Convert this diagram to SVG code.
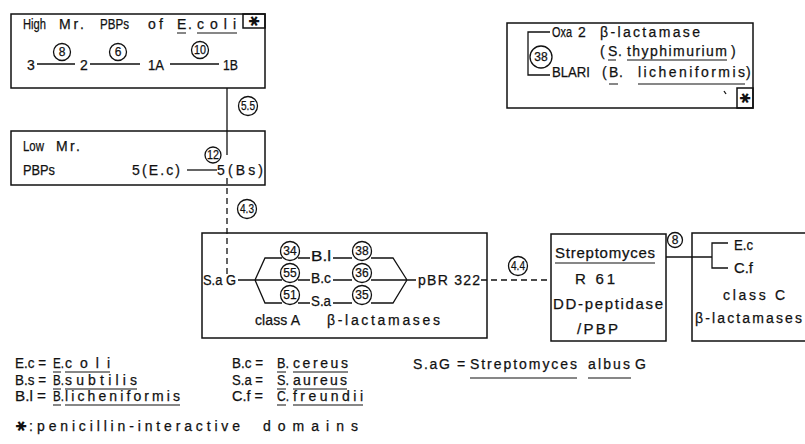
<svg xmlns="http://www.w3.org/2000/svg" width="805" height="444" viewBox="0 0 805 444">
<style>
.b{fill:none;stroke:#111;stroke-width:1.5}
.l{fill:none;stroke:#111;stroke-width:1.3}
.d{fill:none;stroke:#111;stroke-width:1.3;stroke-dasharray:6 4}
.c{fill:#fff;stroke:#111;stroke-width:1.3}
.u{fill:none;stroke:#111;stroke-width:1.2}
text{font-family:"Liberation Sans",Arial,sans-serif;font-size:14px;fill:#111;stroke:#111;stroke-width:0.25}
.n{font-size:12px;text-anchor:middle}
.s{font-family:"DejaVu Sans",sans-serif;font-size:14px;text-anchor:middle;stroke:none}
.k{font-size:15px}
</style>
<rect width="805" height="444" fill="#fff"/>

<g id="connectors">
  <path class="l" d="M227,88 V155"/>
  <path class="d" d="M227,178 V274"/>
  <path class="d" d="M481,280 H551"/>
  <path class="l" d="M666,257 H712"/>
  <circle class="c" cx="248" cy="106" r="9.5"/>
  <text class="n" x="248" y="110" textLength="14" lengthAdjust="spacingAndGlyphs">5.5</text>
  <circle class="c" cx="247" cy="209" r="9.5"/>
  <text class="n" x="247" y="213" textLength="14" lengthAdjust="spacingAndGlyphs">4.3</text>
  <circle class="c" cx="518" cy="266" r="9.5"/>
  <text class="n" x="518" y="270" textLength="14" lengthAdjust="spacingAndGlyphs">4.4</text>
  <circle class="c" cx="675" cy="240" r="7.5"/>
  <text class="n" x="675" y="244">8</text>
</g>

<g id="high-mr-pbps">
  <rect class="b" x="11" y="14" width="254" height="74"/>
  <rect class="b" x="243" y="14" width="22" height="14"/>
  <text class="s" transform="translate(254,21) rotate(90)" y="5">✱</text>
  <text x="23" y="29" textLength="23" lengthAdjust="spacingAndGlyphs">High</text>
  <text x="59" y="29" textLength="25" lengthAdjust="spacing">Mr.</text>
  <text x="100" y="29" textLength="29" lengthAdjust="spacingAndGlyphs">PBPs</text>
  <text x="148" y="29" textLength="15" lengthAdjust="spacing">of</text>
  <text x="177" y="29" textLength="15" lengthAdjust="spacing">E.</text>
  <text x="197" y="29" textLength="39" lengthAdjust="spacing">coli</text>
  <path class="u" d="M177,33 H186 M197,33 H237"/>
  <text x="27" y="70">3</text>
  <text x="80" y="70">2</text>
  <text x="148" y="70" textLength="16" lengthAdjust="spacingAndGlyphs">1A</text>
  <text x="223" y="70" textLength="15" lengthAdjust="spacingAndGlyphs">1B</text>
  <path class="l" d="M37,64 H75 M90,64 H140 M170,64 H219"/>
  <circle class="c" cx="62" cy="52" r="8.5"/>
  <text class="n" x="62" y="56">8</text>
  <circle class="c" cx="118" cy="52" r="8.5"/>
  <text class="n" x="118" y="56">6</text>
  <circle class="c" cx="200" cy="50" r="8.5"/>
  <text class="n" x="200" y="54" textLength="12" lengthAdjust="spacingAndGlyphs">10</text>
</g>

<g id="low-mr-pbps">
  <rect class="b" x="11" y="131" width="254" height="54"/>
  <text x="23" y="151" textLength="21" lengthAdjust="spacingAndGlyphs">Low</text>
  <text x="56" y="151" textLength="24" lengthAdjust="spacing">Mr.</text>
  <text x="23" y="175" textLength="32" lengthAdjust="spacingAndGlyphs">PBPs</text>
  <text x="132" y="175" textLength="48" lengthAdjust="spacing">5(E.c)</text>
  <text x="217" y="175" textLength="46" lengthAdjust="spacing">5(Bs)</text>
  <path class="l" d="M187,170 H217"/>
  <circle class="c" cx="213" cy="155" r="8"/>
  <text class="n" x="213" y="159" textLength="12" lengthAdjust="spacingAndGlyphs">12</text>
</g>

<g id="oxa2-blari">
  <rect class="b" x="507" y="23" width="246" height="85"/>
  <rect class="b" x="737" y="88" width="16" height="20"/>
  <text class="s" transform="translate(745,98) rotate(90)" y="5">✱</text>
  <path class="l" d="M550,32 H528 V75 H550"/>
  <path class="l" d="M724,91 L726,94"/>
  <circle class="c" cx="541" cy="57" r="11"/>
  <text class="n" x="541" y="61">38</text>
  <text x="552" y="37" textLength="20" lengthAdjust="spacingAndGlyphs">Oxa</text>
  <text x="578" y="37">2</text>
  <text x="600" y="37" textLength="100" lengthAdjust="spacing">β-lactamase</text>
  <text x="600" y="56">(</text>
  <text x="608" y="56" textLength="14" lengthAdjust="spacing">S.</text>
  <text x="627" y="56" textLength="100" lengthAdjust="spacing">thyphimurium</text>
  <text x="731" y="56">)</text>
  <path class="u" d="M608,60 H616 M627,60 H727"/>
  <text x="552" y="77" textLength="38" lengthAdjust="spacingAndGlyphs">BLARI</text>
  <text x="602" y="77">(</text>
  <text x="609" y="77" textLength="14" lengthAdjust="spacing">B.</text>
  <text x="638" y="77" textLength="107" lengthAdjust="spacing">licheniformis</text>
  <text x="746" y="77">)</text>
  <path class="u" d="M609,84 H618 M638,84 H745"/>
</g>

<g id="class-a">
  <rect class="b" x="202" y="233" width="285" height="105"/>
  <text x="203" y="285" textLength="33" lengthAdjust="spacingAndGlyphs">S.a G</text>
  <path class="l" d="M238,280 H255 M255,280 L265,258 H282 M255,280 L265,303 H282 M255,280 H282"/>
  <path class="l" d="M298,258 H310 M298,280 H310 M298,303 H310"/>
  <path class="l" d="M333,258 H352 M333,280 H352 M333,303 H352"/>
  <path class="l" d="M371,258 H393 L407,280 M371,303 H393 L407,280 M371,280 H416"/>
  <circle class="c" cx="290" cy="251" r="9.5"/>
  <text class="n" x="290" y="255">34</text>
  <circle class="c" cx="290" cy="273" r="9.5"/>
  <text class="n" x="290" y="277">55</text>
  <circle class="c" cx="290" cy="295" r="9.5"/>
  <text class="n" x="290" y="299">51</text>
  <text x="311" y="261" textLength="20" lengthAdjust="spacingAndGlyphs">B.l</text>
  <text x="311" y="283" textLength="20" lengthAdjust="spacingAndGlyphs">B.c</text>
  <text x="311" y="306" textLength="20" lengthAdjust="spacingAndGlyphs">S.a</text>
  <circle class="c" cx="362" cy="251" r="9.5"/>
  <text class="n" x="362" y="255">38</text>
  <circle class="c" cx="362" cy="273" r="9.5"/>
  <text class="n" x="362" y="277">36</text>
  <circle class="c" cx="362" cy="295" r="9.5"/>
  <text class="n" x="362" y="299">35</text>
  <text x="418" y="285" textLength="62" lengthAdjust="spacing">pBR 322</text>
  <text x="255" y="325" textLength="45" lengthAdjust="spacing">class A</text>
  <text x="327" y="325" textLength="113" lengthAdjust="spacing">β-lactamases</text>
</g>

<g id="streptomyces-r61">
  <rect class="b" x="551" y="234" width="115" height="107"/>
  <text class="k" x="555" y="258" textLength="100" lengthAdjust="spacing">Streptomyces</text>
  <path class="u" d="M555,263 H655"/>
  <text class="k" x="575" y="284" textLength="40" lengthAdjust="spacing">R 61</text>
  <text class="k" x="553" y="309" textLength="110" lengthAdjust="spacing">DD-peptidase</text>
  <text class="k" x="577" y="334" textLength="41" lengthAdjust="spacing">/PBP</text>
</g>

<g id="class-c">
  <path class="b" d="M806,233 H692 V341 H806"/>
  <path class="l" d="M728,243 H712 V268 H728"/>
  <text x="734" y="250" textLength="19" lengthAdjust="spacingAndGlyphs">E.c</text>
  <text x="734" y="273" textLength="19" lengthAdjust="spacingAndGlyphs">C.f</text>
  <text x="723" y="300" textLength="62" lengthAdjust="spacing">class C</text>
  <text x="695" y="323" textLength="107" lengthAdjust="spacing">β-lactamases</text>
</g>

<g id="legend">
  <text x="15" y="368" textLength="31" lengthAdjust="spacingAndGlyphs">E.c =</text>
  <text x="53" y="368" textLength="11" lengthAdjust="spacingAndGlyphs">E.</text>
  <text x="65" y="368" textLength="45" lengthAdjust="spacing">coli</text>
  <path class="u" d="M53,372 H61 M65,372 H110"/>
  <text x="15" y="385" textLength="31" lengthAdjust="spacingAndGlyphs">B.s =</text>
  <text x="53" y="385" textLength="11" lengthAdjust="spacingAndGlyphs">B.</text>
  <text x="65" y="385" textLength="72" lengthAdjust="spacing">subtilis</text>
  <path class="u" d="M53,389 H61 M65,389 H137"/>
  <text x="15" y="401" textLength="31" lengthAdjust="spacingAndGlyphs">B.l =</text>
  <text x="53" y="401" textLength="11" lengthAdjust="spacingAndGlyphs">B.</text>
  <text x="65" y="401" textLength="115" lengthAdjust="spacing">licheniformis</text>
  <path class="u" d="M53,405 H61 M65,405 H180"/>

  <text x="232" y="368" textLength="31" lengthAdjust="spacingAndGlyphs">B.c =</text>
  <text x="277" y="368" textLength="12" lengthAdjust="spacingAndGlyphs">B.</text>
  <text x="293" y="368" textLength="55" lengthAdjust="spacing">cereus</text>
  <path class="u" d="M277,372 H286 M293,372 H348"/>
  <text x="232" y="385" textLength="31" lengthAdjust="spacingAndGlyphs">S.a =</text>
  <text x="277" y="385" textLength="12" lengthAdjust="spacingAndGlyphs">S.</text>
  <text x="293" y="385" textLength="54" lengthAdjust="spacing">aureus</text>
  <path class="u" d="M277,389 H286 M293,389 H347"/>
  <text x="232" y="401" textLength="31" lengthAdjust="spacingAndGlyphs">C.f =</text>
  <text x="277" y="401" textLength="12" lengthAdjust="spacingAndGlyphs">C.</text>
  <text x="293" y="401" textLength="70" lengthAdjust="spacing">freundii</text>
  <path class="u" d="M277,405 H286 M293,405 H363"/>

  <text x="413" y="369" textLength="37" lengthAdjust="spacing">S.aG</text>
  <text x="457" y="369">=</text>
  <text x="470" y="369" textLength="107" lengthAdjust="spacing">Streptomyces</text>
  <text x="588" y="369" textLength="42" lengthAdjust="spacing">albus</text>
  <text x="635" y="369">G</text>
  <path class="u" d="M470,378 H577 M588,378 H631"/>

  <text class="s" transform="translate(21,426) rotate(90)" y="5">✱</text>
  <text x="29" y="431">:</text>
  <text x="37" y="431" textLength="203" lengthAdjust="spacing">penicillin-interactive</text>
  <text x="263" y="431" textLength="95" lengthAdjust="spacing">domains</text>
</g>
</svg>
